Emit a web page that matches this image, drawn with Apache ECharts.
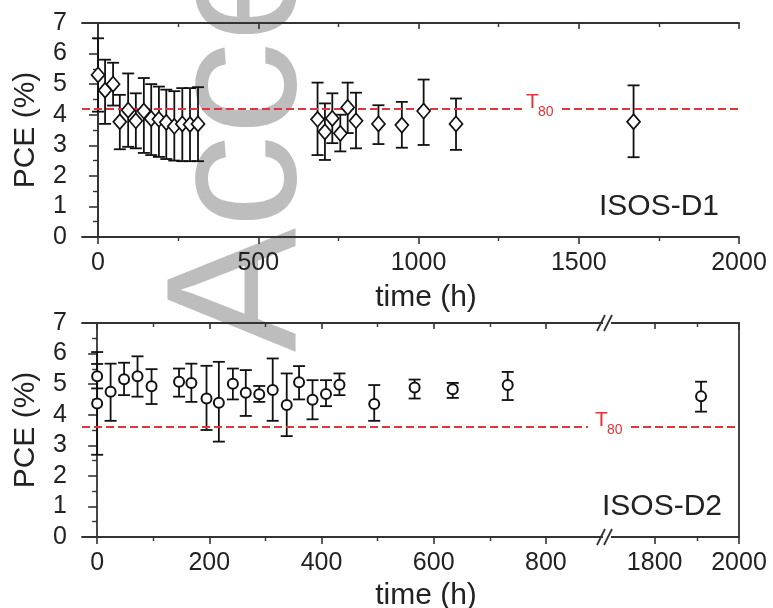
<!DOCTYPE html>
<html>
<head>
<meta charset="utf-8">
<script src="https://cdn.jsdelivr.net/npm/echarts@6/dist/echarts.min.js"></script>
<style>
  html, body { margin: 0; padding: 0; background: #fff; }
  #chart { width: 773px; height: 608px; }
</style>
</head>
<body>
<div id="chart"></div>
<script>
// ---- ISOS-D1 : PCE (%) vs storage time (h), mean with min/max spread ----
const d1Time = [0, 22, 47, 68, 94, 118, 143, 166, 190, 213, 238, 263, 287, 312,
                685, 708, 731, 756, 779, 805, 875, 948, 1016, 1117, 1671];
const d1PCE  = [5.3, 4.8, 5.0, 3.77, 4.15, 3.8, 4.12, 3.87, 3.85, 3.75, 3.62, 3.7, 3.68, 3.7,
                3.85, 3.44, 3.88, 3.39, 4.24, 3.8, 3.7, 3.66, 4.12, 3.7, 3.77];
const d1Low  = [4.1, 3.7, 4.3, 2.87, 2.95, 2.9, 2.75, 2.68, 2.62, 2.55, 2.5, 2.48, 2.48, 2.48,
                2.68, 2.52, 3.07, 2.8, 3.4, 2.9, 3.04, 2.92, 3.01, 2.85, 2.61];
const d1High = [6.5, 5.8, 5.7, 4.65, 5.35, 4.7, 5.2, 5.0, 4.92, 4.82, 4.77, 4.87, 4.87, 4.9,
                5.05, 4.37, 4.7, 4.0, 5.05, 4.72, 4.31, 4.42, 5.15, 4.53, 4.96];
const d1T80 = 4.21;

// ---- ISOS-D2 ----
const d2Time = [0, 0, 24, 48, 72, 97, 146, 168, 195, 217, 242, 265, 289, 313, 338, 360, 384,
                408, 432, 494, 566, 634, 732, 1910];
const d2PCE  = [5.26, 4.37, 4.75, 5.16, 5.26, 4.93, 5.08, 5.04, 4.53, 4.39, 5.01, 4.72, 4.67,
                4.81, 4.32, 5.06, 4.49, 4.68, 4.98, 4.35, 4.89, 4.83, 4.97, 4.6];
const d2Low  = [4.86, 2.69, 3.8, 4.64, 4.59, 4.35, 4.59, 4.42, 3.5, 3.12, 4.5, 3.96, 4.42,
                3.8, 3.3, 4.5, 3.85, 4.28, 4.64, 3.8, 4.53, 4.55, 4.48, 4.1];
const d2High = [5.66, 6.05, 5.67, 5.7, 5.91, 5.49, 5.51, 5.67, 5.6, 5.73, 5.51, 5.46, 4.94,
                5.84, 5.35, 5.59, 5.13, 5.13, 5.35, 4.97, 5.15, 5.04, 5.4, 5.08];
const d2T80 = 3.62;

// ---- axis ranges and tick values ----
const d1Range = [-50, 2000];
const d1Major = [0, 500, 1000, 1500, 2000];
const d1Minor = [250, 750, 1250, 1750];
const d2RangeL = [-27, 909];          // segment before the axis break
const d2RangeR = [1687, 2000];        // segment after the axis break
const d2MajorL = [0, 200, 400, 600, 800];
const d2MinorL = [100, 300, 500, 700];
const d2MajorR = [1800, 2000];
const d2MinorR = [1900];
const yRange = [0, 7];

// ---- layout / style ----
const FONT = "'Liberation Sans', Arial, Helvetica, sans-serif";
const INK = '#222';
const AX = '#333';
const RED = '#e0353b';
const gridTop = { left: 82, top: 23, width: 657, height: 214 };
const gridBotL = { left: 82, top: 323, width: 525, height: 214 };
const gridBotR = { left: 607, top: 323, width: 132, height: 214 };

const chart = echarts.init(document.getElementById('chart'), null, { renderer: 'canvas' });

function pts(t, v) { return t.map((x, i) => [x, v[i]]); }
function bars(t, lo, hi) { return t.map((x, i) => [x, lo[i], hi[i]]); }
const plain = v => String(v);

// error bar: vertical stem + caps
function errorBar(params, api) {
  const x = api.value(0);
  const a = api.coord([x, api.value(1)]);
  const b = api.coord([x, api.value(2)]);
  const w = 6;
  const style = { stroke: '#111', lineWidth: 1.8 };
  return {
    type: 'group',
    children: [
      { type: 'line', shape: { x1: a[0], y1: a[1], x2: b[0], y2: b[1] }, style },
      { type: 'line', shape: { x1: a[0] - w, y1: a[1], x2: a[0] + w, y2: a[1] }, style },
      { type: 'line', shape: { x1: b[0] - w, y1: b[1], x2: b[0] + w, y2: b[1] }, style }
    ]
  };
}

// four x axes per grid: labelled bottom, minor bottom, inner top major, inner top minor
function xAxesFor(gridIndex, range, major, minor) {
  const base = { type: 'value', gridIndex, min: range[0], max: range[1], splitLine: { show: false } };
  const line = { show: true, lineStyle: { color: AX, width: 1.8 } };
  return [
    Object.assign({}, base, {
      position: 'bottom', axisLine: line,
      axisTick: { show: true, customValues: major, length: 7, lineStyle: { color: AX, width: 1.6 } },
      axisLabel: { show: true, customValues: major, formatter: plain, margin: 14,
                   color: INK, fontSize: 25, fontFamily: FONT }
    }),
    Object.assign({}, base, {
      position: 'bottom', axisLine: { show: false },
      axisTick: { show: true, customValues: minor, length: 4, lineStyle: { color: AX, width: 1.4 } },
      axisLabel: { show: false }
    }),
    Object.assign({}, base, {
      position: 'top', axisLine: line,
      axisTick: { show: true, inside: true, customValues: major, length: 6, lineStyle: { color: AX, width: 1.6 } },
      axisLabel: { show: false }
    }),
    Object.assign({}, base, {
      position: 'top', axisLine: { show: false },
      axisTick: { show: true, inside: true, customValues: minor, length: 4, lineStyle: { color: AX, width: 1.4 } },
      axisLabel: { show: false }
    })
  ];
}

function yLeft(gridIndex) {
  return {
    type: 'value', gridIndex, position: 'left', min: yRange[0], max: yRange[1], interval: 1,
    splitLine: { show: false },
    axisLine: { show: true, lineStyle: { color: AX, width: 1.8 } },
    axisTick: { show: true, length: 9, lineStyle: { color: AX, width: 1.6 } },
    minorTick: { show: true, splitNumber: 2, length: 5, lineStyle: { color: AX, width: 1.4 } },
    axisLabel: { margin: 15, color: INK, fontSize: 25, fontFamily: FONT, formatter: plain }
  };
}
function yRight(gridIndex) {
  return {
    type: 'value', gridIndex, position: 'right', min: yRange[0], max: yRange[1],
    splitLine: { show: false },
    axisLine: { show: true, lineStyle: { color: AX, width: 1.8 } },
    axisTick: { show: false }, axisLabel: { show: false }
  };
}

function t80Line(value) {
  return {
    silent: true, symbol: ['none', 'none'],
    label: { show: false },
    lineStyle: { color: RED, type: [8, 4], width: 2.2, opacity: 1 },
    data: [{ yAxis: value }]
  };
}

const markerStyle = { color: '#fff', borderColor: '#111', borderWidth: 1.7, opacity: 1 };

// split ISOS-D2 points between the two sides of the axis break
const idxL = d2Time.map((t, i) => i).filter(i => d2Time[i] <= d2RangeL[1]);
const idxR = d2Time.map((t, i) => i).filter(i => d2Time[i] >= d2RangeR[0]);
const pick = (arr, idx) => idx.map(i => arr[i]);

chart.setOption({
  animation: false,
  backgroundColor: '#fff',
  grid: [
    Object.assign({ containLabel: false }, gridTop),
    Object.assign({ containLabel: false }, gridBotL),
    Object.assign({ containLabel: false }, gridBotR)
  ],
  xAxis: [].concat(
    xAxesFor(0, d1Range, d1Major, d1Minor),
    xAxesFor(1, d2RangeL, d2MajorL, d2MinorL),
    xAxesFor(2, d2RangeR, d2MajorR, d2MinorR)
  ),
  yAxis: [yLeft(0), yRight(0), yLeft(1), yRight(2)],
  series: [
    {
      type: 'custom', name: 'D1 spread', xAxisIndex: 0, yAxisIndex: 0, z: 3,
      renderItem: errorBar, encode: { x: 0, y: [1, 2] },
      data: bars(d1Time, d1Low, d1High),
      markLine: t80Line(d1T80)
    },
    {
      type: 'scatter', name: 'ISOS-D1', xAxisIndex: 0, yAxisIndex: 0, z: 5,
      symbol: 'diamond', symbolSize: [13, 15], itemStyle: markerStyle,
      data: pts(d1Time, d1PCE)
    },
    {
      type: 'custom', name: 'D2 spread', xAxisIndex: 4, yAxisIndex: 2, z: 3,
      renderItem: errorBar, encode: { x: 0, y: [1, 2] },
      data: bars(pick(d2Time, idxL), pick(d2Low, idxL), pick(d2High, idxL)),
      markLine: t80Line(d2T80)
    },
    {
      type: 'scatter', name: 'ISOS-D2', xAxisIndex: 4, yAxisIndex: 2, z: 5,
      symbol: 'circle', symbolSize: 10, itemStyle: Object.assign({}, markerStyle, { borderWidth: 2 }),
      data: pts(pick(d2Time, idxL), pick(d2PCE, idxL))
    },
    {
      type: 'custom', name: 'D2 spread (late)', xAxisIndex: 8, yAxisIndex: 3, z: 3,
      renderItem: errorBar, encode: { x: 0, y: [1, 2] },
      data: bars(pick(d2Time, idxR), pick(d2Low, idxR), pick(d2High, idxR)),
      markLine: t80Line(d2T80)
    },
    {
      type: 'scatter', name: 'ISOS-D2 (late)', xAxisIndex: 8, yAxisIndex: 3, z: 5,
      symbol: 'circle', symbolSize: 10, itemStyle: Object.assign({}, markerStyle, { borderWidth: 2 }),
      data: pts(pick(d2Time, idxR), pick(d2PCE, idxR))
    }
  ]
});

// ---- annotations ----
function txt(text, x, y, size, color, align, vAlign, extra) {
  return Object.assign({
    type: 'text', x, y, z: 100,
    style: {
      text, fill: color, fontSize: size, fontFamily: FONT,
      align, verticalAlign: vAlign, textAlign: align, textVerticalAlign: vAlign
    }
  }, extra || {});
}
function seg(x1, y1, x2, y2, w, color) {
  return { type: 'line', z: 100, shape: { x1, y1, x2, y2 }, style: { stroke: color, lineWidth: w } };
}
function blank(x, y, w, h) {
  return { type: 'rect', z: 99, shape: { x, y, width: w, height: h }, style: { fill: '#fff' } };
}

const yT80top = chart.convertToPixel({ yAxisIndex: 0 }, d1T80);
const yT80bot = chart.convertToPixel({ yAxisIndex: 2 }, d2T80);
const brk = gridBotR.left;
const botTop = gridBotL.top, botBottom = gridBotL.top + gridBotL.height;

function t80Label(xLeft, y, gapL, gapR) {
  return [
    blank(gapL, y - 4, gapR - gapL, 8),
    txt('T', xLeft, y - 6, 21, RED, 'left', 'middle'),
    txt('80', xLeft + 12, y + 4, 14, RED, 'left', 'middle')
  ];
}
function breakMark(yc) {
  return [
    blank(brk - 4, yc - 3, 8, 6),
    seg(brk - 10, yc + 8, brk - 2, yc - 8, 1.8, AX),
    seg(brk - 3, yc + 8, brk + 5, yc - 8, 1.8, AX)
  ];
}

chart.setOption({
  graphic: [].concat(
    [
      // faint vertical watermark behind the plots
      {
        type: 'text', x: 244, y: 352, rotation: Math.PI / 2, z: -10, silent: true,
        style: {
          text: 'Accepted Manuscript', fill: '#bdbdbd', fontSize: 186, fontFamily: FONT,
          align: 'left', verticalAlign: 'middle', textAlign: 'left', textVerticalAlign: 'middle'
        }
      },
      txt('PCE (%)', 26, gridTop.top + gridTop.height / 2, 30, INK, 'center', 'middle', { rotation: Math.PI / 2 }),
      txt('PCE (%)', 26, gridBotL.top + gridBotL.height / 2, 30, INK, 'center', 'middle', { rotation: Math.PI / 2 }),
      txt('time (h)', 426, 298, 30, INK, 'center', 'middle'),
      txt('time (h)', 426, 596, 30, INK, 'center', 'middle'),
      txt('ISOS-D1', 719, 207, 30, INK, 'right', 'middle'),
      txt('ISOS-D2', 722, 507, 30, INK, 'right', 'middle')
    ],
    t80Label(526, yT80top, 522, 558),
    t80Label(595, yT80bot, 588, 628),
    breakMark(botTop),
    breakMark(botBottom)
  )
});
</script>
</body>
</html>
